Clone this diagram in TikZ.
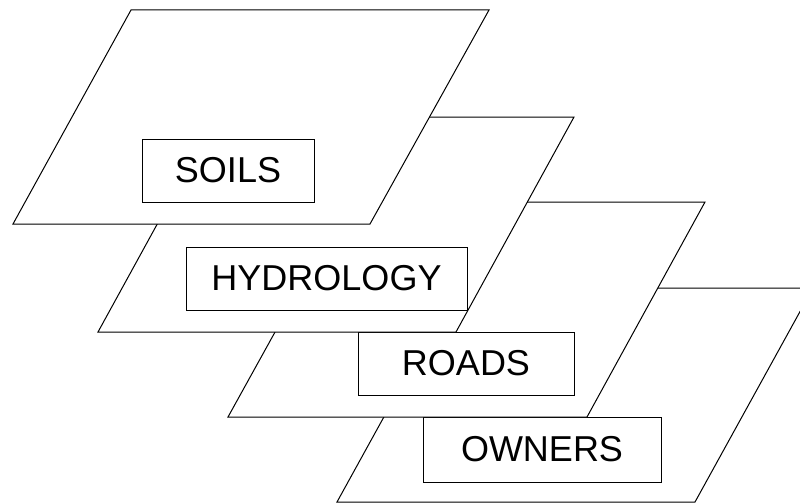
\documentclass[tikz,border=0pt]{standalone}
\usepackage{fontspec}
\setmainfont{Liberation Sans}
\usepackage{tikz}

\begin{document}
\begin{tikzpicture}[
  x=1pt, y=-1pt,
  every node/.style={font=\fontsize{36}{43}\selectfont},
  sheet/.style={draw, fill=white, line width=1pt},
  tag/.style={draw, fill=white, line width=1pt, minimum height=63pt, inner sep=0pt}
]
\clip (0,0) rectangle (800,503);

% Layers, back to front
\draw[sheet] (337,502) -- (455,288) -- (813,288) -- (695,502) -- cycle;
\node[tag, minimum width=238pt, minimum height=65pt] (owners) at (542,449.5) {OWNERS};

\draw[sheet] (228,417) -- (347,202) -- (705,202) -- (587,417) -- cycle;
\node[tag, minimum width=216pt] (roads) at (466,363.5) {ROADS};

\draw[sheet] (98,332) -- (216,117) -- (574,117) -- (456,332) -- cycle;
\node[tag, minimum width=281pt] (hydro) at (326.5,278.5) {HYDROLOGY};

\draw[sheet] (13,224) -- (131,10) -- (489,10) -- (370,224) -- cycle;
\node[tag, minimum width=172pt] (soils) at (228,170.5) {SOILS};
\end{tikzpicture}
\end{document}
